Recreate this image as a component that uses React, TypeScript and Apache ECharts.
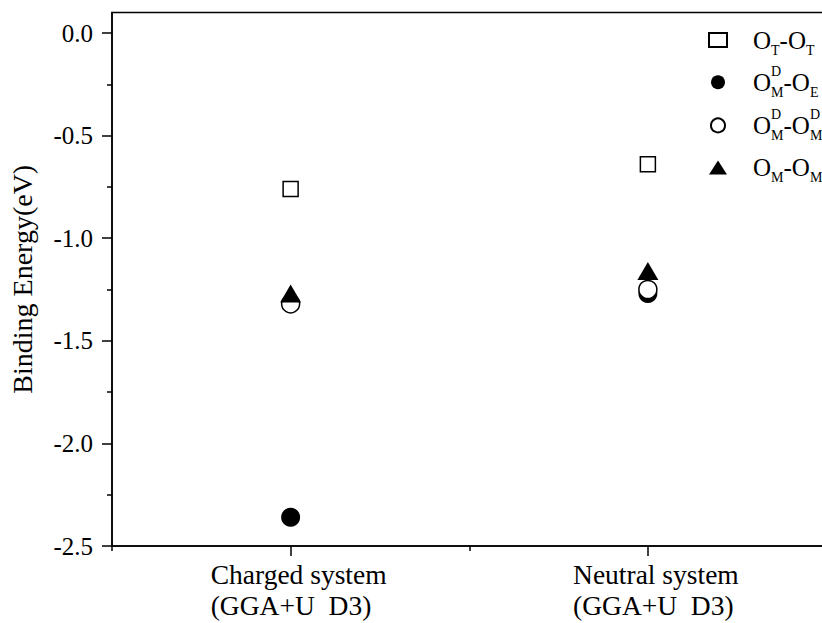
import React, { useEffect, useRef } from "react";
import * as echarts from "echarts";

const categories = ["Charged system\n(GGA+U  D3)", "Neutral system\n(GGA+U  D3)"];
const seriesNames = ["OT-OT", "OMD-OE", "OMD-OMD", "OM-OM"];
const otot = [-0.76, -0.64];
const omdoe = [-2.36, -1.27];
const omdomd = [-1.32, -1.25];
const omom = [-1.27, -1.16];
const yMajorTicks = [-2.5, -2.0, -1.5, -1.0, -0.5, 0.0];
const yMinorTicks = [-2.25, -1.75, -1.25, -0.75, -0.25];
const yMin = -2.5;
const yMax = 0.1;

const legendRich: Record<string, string> = {
  "OT-OT": "{o0|O}{sub|T}{o|-O}{sub|T}",
  "OMD-OE": "{o0|O}{sup0|D}{sub|M}{o|-O}{sub|E}",
  "OMD-OMD": "{o0|O}{sup0|D}{sub|M}{o|-O}{sup0|D}{sub|M}",
  "OM-OM": "{o0|O}{sub|M}{o|-O}{sub|M}",
};

const FONT = "'Liberation Serif', 'Times New Roman', serif";

export default function App() {
  const ref = useRef<HTMLDivElement>(null);
  useEffect(() => {
    if (!ref.current) return;
    const chart = echarts.init(ref.current, null, { renderer: "svg" });
    const black = "#000";
    const mk = (vals: number[]) => vals.map((v, i) => [i, v]);
    chart.setOption({
      animation: false,
      backgroundColor: "#fff",
      grid: {
        left: 112,
        top: 12.5,
        right: -4.5,
        bottom: 77,
        show: true,
        borderColor: black,
        borderWidth: 1.5,
        backgroundColor: "transparent",
        containLabel: false,
        outerBoundsMode: "none",
      },
      legend: {
        orient: "vertical",
        left: 708,
        top: 23,
        padding: 0,
        itemWidth: 18,
        itemHeight: 14,
        itemGap: 7.2,
        data: [
          { name: seriesNames[0] },
          { name: seriesNames[1] },
          { name: seriesNames[2] },
          { name: seriesNames[3], icon: "path://M9,0 L18,14 L0,14 Z" },
        ],
        formatter: (name: string) => legendRich[name],
        textStyle: {
          fontFamily: FONT,
          color: black,
          rich: {
            o0: { fontSize: 25, fontFamily: FONT, color: black, lineHeight: 36, padding: [0, 0, 0, 21] },
            o: { fontSize: 25, fontFamily: FONT, color: black, lineHeight: 36 },
            sub: { fontSize: 14, fontFamily: FONT, color: black, lineHeight: 14, padding: [20, 0, 0, 0] },
            sup0: { fontSize: 14, fontFamily: FONT, color: black, lineHeight: 14, padding: [0, 0, 22, 0], width: 0 },
          },
        },
      },
      xAxis: [
        {
          type: "category",
          data: categories,
          position: "bottom",
          axisLine: { show: true, onZero: false, lineStyle: { color: black, width: 1.5 } },
          axisTick: { show: true, alignWithLabel: true, length: 10, lineStyle: { color: black, width: 1.5 } },
          axisLabel: {
            show: true,
            margin: 13,
            align: "center",
            padding: [0, 0, 0, 16],
            formatter: (v: string) => v.split("\n").map((l) => `{a|${l}}`).join("\n"),
            rich: {
              a: { align: "left", fontSize: 27.5, fontFamily: FONT, color: black, lineHeight: 31 },
            },
          },
          splitLine: { show: false },
        },
        {
          type: "category",
          data: categories,
          position: "bottom",
          axisLine: { show: false, onZero: false },
          axisTick: { show: true, alignWithLabel: false, length: 5, lineStyle: { color: black, width: 1.5 } },
          axisLabel: { show: false },
          splitLine: { show: false },
        },
      ],
      yAxis: [
        {
          type: "value",
          min: yMin,
          max: yMax,
          position: "left",
          name: "Binding Energy(eV)",
          nameLocation: "middle",
          nameGap: 76,
          nameTextStyle: { fontSize: 28, fontFamily: FONT, color: black },
          axisLine: { show: true, onZero: false, lineStyle: { color: black, width: 1.5 } },
          axisTick: { show: true, length: 10, customValues: yMajorTicks, lineStyle: { color: black, width: 1.5 } },
          axisLabel: {
            show: true,
            margin: 19,
            customValues: yMajorTicks,
            fontSize: 25,
            fontFamily: FONT,
            color: black,
            formatter: (v: number) => v.toFixed(1),
          },
          splitLine: { show: false },
        },
        {
          type: "value",
          min: yMin,
          max: yMax,
          position: "left",
          axisLine: { show: false, onZero: false },
          axisTick: { show: true, length: 5, customValues: yMinorTicks, lineStyle: { color: black, width: 1.5 } },
          axisLabel: { show: false },
          splitLine: { show: false },
        },
      ],
      series: [
        {
          name: seriesNames[0],
          type: "scatter",
          symbol: "rect",
          symbolSize: 15,
          itemStyle: { color: "#fff", borderColor: black, borderWidth: 1.5, opacity: 1 },
          data: mk(otot),
        },
        {
          name: seriesNames[1],
          type: "scatter",
          symbol: "circle",
          symbolSize: 19,
          itemStyle: { color: black, borderColor: black, borderWidth: 0, opacity: 1 },
          data: mk(omdoe),
        },
        {
          name: seriesNames[2],
          type: "scatter",
          symbol: "circle",
          symbolSize: 18,
          itemStyle: { color: "#fff", borderColor: black, borderWidth: 1.5, opacity: 1 },
          data: mk(omdomd),
        },
        {
          name: seriesNames[3],
          type: "scatter",
          symbol: "triangle",
          symbolSize: [21, 18],
          itemStyle: { color: black, borderColor: black, borderWidth: 0, opacity: 1 },
          data: mk(omom),
        },
      ],
    });
    return () => chart.dispose();
  }, []);
  return <div ref={ref} style={{ width: 822, height: 623, position: "absolute", left: 0, top: 0 }} />;
}
